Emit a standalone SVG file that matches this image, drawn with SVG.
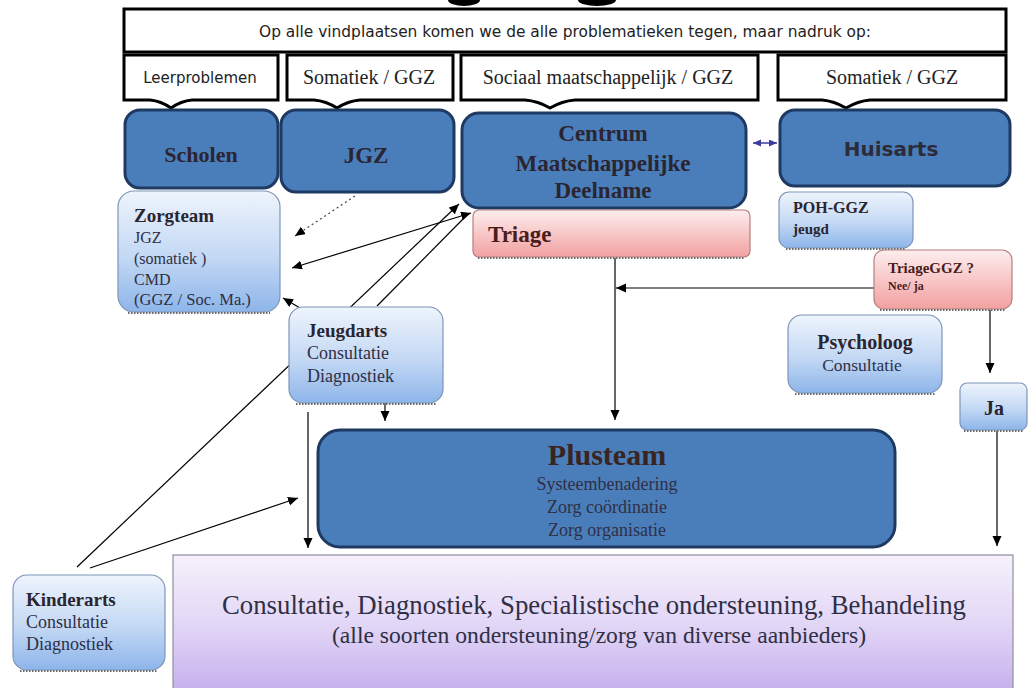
<svg xmlns="http://www.w3.org/2000/svg" width="1031" height="688" viewBox="0 0 1031 688">
<defs>
<linearGradient id="gBlue" x1="0" y1="0" x2="0" y2="1"><stop offset="0" stop-color="#eef4fc"/><stop offset="0.55" stop-color="#c3d8f4"/><stop offset="1" stop-color="#8db5ea"/></linearGradient>
<linearGradient id="gPink" x1="0" y1="0" x2="0" y2="1"><stop offset="0" stop-color="#fdeeee"/><stop offset="1" stop-color="#f2a0a0"/></linearGradient>
<linearGradient id="gPurple" x1="0" y1="0" x2="0" y2="1"><stop offset="0" stop-color="#f6f1fc"/><stop offset="0.5" stop-color="#e2d6f6"/><stop offset="1" stop-color="#c4aeec"/></linearGradient>
<marker id="ah" markerUnits="userSpaceOnUse" markerWidth="11" markerHeight="10" refX="10" refY="4.5" orient="auto-start-reverse"><path d="M0,0 L10,4.5 L0,9 z" fill="#000"/></marker>
<marker id="ahb" markerUnits="userSpaceOnUse" markerWidth="9" markerHeight="8" refX="8" refY="3.5" orient="auto-start-reverse"><path d="M0,0 L8,3.5 L0,7 z" fill="#3b3ba0"/></marker>
</defs>
<style>
.call{fill:#fff;stroke:#000;stroke-width:3;stroke-linejoin:miter}
.dark{fill:#4a7ebb;stroke:#1f3a62;stroke-width:3}
.light{fill:url(#gBlue);stroke:#7d95b8;stroke-width:1.2}
.pink{fill:url(#gPink);stroke:#b57f7f;stroke-width:1.2}
.shadow{stroke:#6a6a6a;stroke-width:2;stroke-dasharray:1.5 1.5;fill:none}
.sans{font-family:"DejaVu Sans","Liberation Sans",sans-serif;fill:#222}
.serif{font-family:"Liberation Serif","Times New Roman",serif}
.hd{font-family:"Liberation Serif",serif;font-weight:bold;fill:#2a2530}
.tx{font-family:"Liberation Serif",serif;fill:#2f2f45}
.ln{stroke:#000;stroke-width:1.2;fill:none}
</style>

<g id="title-fragment">
<ellipse cx="464" cy="0" rx="16" ry="6" fill="#000"/>
<ellipse cx="597" cy="0" rx="19" ry="6" fill="#000"/>
</g>

<g id="header">
<rect x="124" y="9" width="882" height="43" class="call"/>
<text x="565" y="37" class="sans" font-size="15" text-anchor="middle" textLength="612" lengthAdjust="spacingAndGlyphs">Op alle vindplaatsen komen we de alle problematieken tegen, maar nadruk op:</text>
</g>

<g id="callout-leerproblemen">
<path class="call" d="M124,55 H278 V100 H192 Q181,101 171,108 Q161,101 150,100 H124 Z"/>
<text x="200" y="83" class="sans" font-size="15" text-anchor="middle">Leerproblemen</text>
</g>
<g id="callout-somatiek1">
<path class="call" d="M287,55 H453 V100 H360 Q348,101 337,108 Q326,101 314,100 H287 Z"/>
<text x="369" y="84" class="serif" font-size="20" text-anchor="middle" fill="#222">Somatiek / GGZ</text>
</g>
<g id="callout-sociaal">
<path class="call" d="M461,55 H758 V100 H575 Q562,101 550,108 Q538,101 525,100 H461 Z"/>
<text x="608" y="84" class="serif" font-size="20" text-anchor="middle" fill="#222">Sociaal maatschappelijk / GGZ</text>
</g>
<g id="callout-somatiek2">
<path class="call" d="M778,55 H1006 V100 H870 Q858,101 846,108 Q834,101 822,100 H778 Z"/>
<text x="892" y="84" class="serif" font-size="20" text-anchor="middle" fill="#222">Somatiek / GGZ</text>
</g>

<g id="connectors">
<line x1="77" y1="567" x2="459" y2="204" class="ln" marker-end="url(#ah)"/>
<line x1="377" y1="306" x2="467" y2="215" class="ln"/>
<line x1="355" y1="196" x2="295" y2="236" stroke="#444" stroke-width="1.2" stroke-dasharray="2 3" marker-end="url(#ah)"/>
<line x1="292" y1="268" x2="471" y2="213" class="ln" stroke-width="1.6" marker-start="url(#ah)" marker-end="url(#ah)"/>
<line x1="300" y1="308" x2="283" y2="298" class="ln" stroke-width="1.5" marker-end="url(#ah)"/>
<line x1="385" y1="403" x2="385" y2="421" class="ln" marker-end="url(#ah)"/>
<line x1="308" y1="412" x2="308" y2="548" class="ln" marker-end="url(#ah)"/>
<line x1="90" y1="568" x2="298" y2="498" class="ln" stroke-width="1.7" marker-end="url(#ah)"/>
<line x1="615" y1="258" x2="615" y2="420" class="ln" marker-end="url(#ah)"/>
<line x1="874" y1="288" x2="616" y2="288" class="ln" marker-end="url(#ah)"/>
<line x1="990" y1="310" x2="990" y2="373" class="ln" marker-end="url(#ah)"/>
<line x1="997" y1="431" x2="997" y2="546" class="ln" marker-end="url(#ah)"/>
<line x1="753" y1="143" x2="777" y2="143" stroke="#3b3ba0" stroke-width="1.5" marker-start="url(#ahb)" marker-end="url(#ahb)"/>
</g>

<g id="scholen">
<rect x="125" y="110" width="153" height="78" rx="15" class="dark"/>
<text x="201" y="162" class="hd" font-size="22" text-anchor="middle">Scholen</text>
</g>
<g id="jgz">
<rect x="281" y="110" width="173" height="82" rx="15" class="dark"/>
<text x="366" y="163" class="hd" font-size="23" text-anchor="middle">JGZ</text>
</g>
<g id="centrum">
<rect x="462" y="113" width="284" height="95" rx="17" class="dark"/>
<text x="603" y="141" class="hd" font-size="23" text-anchor="middle">Centrum</text>
<text x="603" y="171" class="hd" font-size="23" text-anchor="middle">Maatschappelijke</text>
<text x="603" y="198" class="hd" font-size="23" text-anchor="middle">Deelname</text>
</g>
<g id="huisarts">
<rect x="780" y="110" width="230" height="76" rx="15" class="dark"/>
<text x="891" y="156" font-family="DejaVu Sans, sans-serif" font-weight="bold" font-size="20" fill="#2c2c38" text-anchor="middle">Huisarts</text>
</g>

<g id="zorgteam">
<rect x="118" y="191" width="162" height="121" rx="16" class="light"/>
<line x1="128" y1="313" x2="270" y2="313" class="shadow"/>
<text x="134" y="222" class="hd" font-size="19">Zorgteam</text>
<text x="134" y="243" class="tx" font-size="16">JGZ</text>
<text x="134" y="264" class="tx" font-size="16">(somatiek )</text>
<text x="134" y="285" class="tx" font-size="16">CMD</text>
<text x="134" y="305" class="tx" font-size="16.5">(GGZ / Soc. Ma.)</text>
</g>

<g id="triage">
<rect x="473" y="210" width="277" height="47" rx="6" class="pink"/>
<line x1="478" y1="258" x2="745" y2="258" class="shadow"/>
<text x="488" y="242" font-family="Liberation Serif, serif" font-weight="bold" font-size="23" fill="#4a1c1c">Triage</text>
</g>

<g id="poh-ggz">
<rect x="779" y="192" width="134" height="56" rx="10" class="light"/>
<line x1="786" y1="249" x2="906" y2="249" class="shadow"/>
<text x="793" y="213" class="hd" font-size="16">POH-GGZ</text>
<text x="793" y="234" class="hd" font-size="15">jeugd</text>
</g>

<g id="triageggz">
<rect x="874" y="250" width="138" height="59" rx="10" class="pink"/>
<line x1="880" y1="310" x2="1006" y2="310" class="shadow"/>
<text x="888" y="273" font-family="Liberation Serif, serif" font-weight="bold" font-size="15" fill="#4a1c1c">TriageGGZ ?</text>
<text x="888" y="290" font-family="Liberation Serif, serif" font-weight="bold" font-size="12" fill="#4a1c1c">Nee/ ja</text>
</g>

<g id="jeugdarts">
<rect x="289" y="307" width="154" height="96" rx="14" class="light"/>
<line x1="296" y1="404" x2="436" y2="404" class="shadow"/>
<text x="307" y="337" class="hd" font-size="19">Jeugdarts</text>
<text x="307" y="359" class="tx" font-size="18">Consultatie</text>
<text x="307" y="382" class="tx" font-size="18">Diagnostiek</text>
</g>

<g id="psycholoog">
<rect x="788" y="315" width="154" height="78" rx="14" class="light"/>
<line x1="795" y1="394" x2="935" y2="394" class="shadow"/>
<text x="865" y="349" class="hd" font-size="20" text-anchor="middle">Psycholoog</text>
<text x="862" y="371" class="tx" font-size="17.5" text-anchor="middle">Consultatie</text>
</g>

<g id="ja">
<rect x="960" y="383" width="67" height="47" rx="7" class="light"/>
<line x1="964" y1="431" x2="1023" y2="431" class="shadow"/>
<text x="994" y="415" class="hd" font-size="20" text-anchor="middle">Ja</text>
</g>

<g id="plusteam">
<rect x="318" y="430" width="577" height="117" rx="22" class="dark"/>
<text x="607" y="465" font-family="Liberation Serif, serif" font-weight="bold" font-size="30" fill="#3a2420" text-anchor="middle">Plusteam</text>
<text x="607" y="490" class="tx" font-size="18" text-anchor="middle">Systeembenadering</text>
<text x="607" y="513" class="tx" font-size="18" text-anchor="middle">Zorg coördinatie</text>
<text x="607" y="536" class="tx" font-size="18" text-anchor="middle">Zorg organisatie</text>
</g>

<g id="kinderarts">
<rect x="13" y="575" width="152" height="95" rx="14" class="light"/>
<line x1="20" y1="671" x2="158" y2="671" class="shadow"/>
<text x="26" y="606" class="hd" font-size="19">Kinderarts</text>
<text x="26" y="628" class="tx" font-size="18">Consultatie</text>
<text x="26" y="650" class="tx" font-size="18">Diagnostiek</text>
</g>

<g id="aanbieders">
<rect x="173" y="555" width="840" height="140" fill="url(#gPurple)" stroke="#8f8f9c" stroke-width="1.2"/>
<text x="594" y="614" class="tx" font-size="26.5" text-anchor="middle" textLength="744" lengthAdjust="spacingAndGlyphs">Consultatie, Diagnostiek, Specialistische ondersteuning, Behandeling</text>
<text x="599" y="643" class="tx" font-size="23" text-anchor="middle" textLength="534" lengthAdjust="spacingAndGlyphs">(alle soorten ondersteuning/zorg van diverse aanbieders)</text>
</g>
</svg>
